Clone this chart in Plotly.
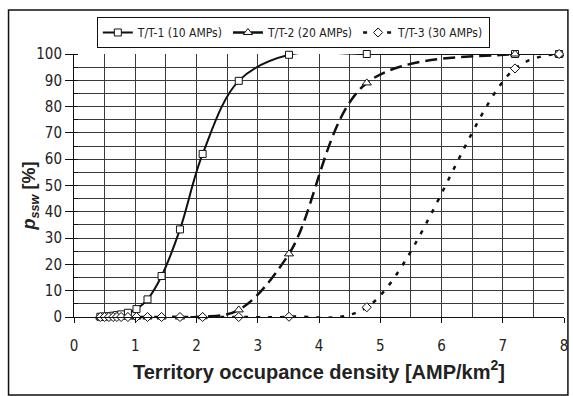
import plotly.graph_objects as go

# Data
x_vals = [0.43, 0.50, 0.57, 0.64, 0.70, 0.77, 0.88, 1.02, 1.20, 1.43, 1.73, 2.10, 2.69, 3.51, 4.78, 7.20, 7.92]
tt1 = [0.1, 0.2, 0.3, 0.5, 0.7, 1.0, 1.6, 3.0, 6.7, 15.6, 33.3, 62.0, 89.8, 99.7, 100.0, 100.0, 100.0]
tt2 = [0, 0, 0, 0, 0, 0, 0, 0, 0, 0, 0, 0.1, 2.7, 24.0, 89.0, 100.0, 100.0]
tt3 = [0, 0, 0, 0, 0, 0, 0, 0, 0, 0, 0, 0, 0, 0.1, 3.7, 94.5, 100.0]
names = ["T/T-1 (10 AMPs)", "T/T-2 (20 AMPs)", "T/T-3 (30 AMPs)"]

x_ticks = [0, 1, 2, 3, 4, 5, 6, 7, 8]
y_ticks = [0, 10, 20, 30, 40, 50, 60, 70, 80, 90, 100]

NARROW = "DejaVu Sans Condensed, Liberation Sans Narrow, Arial Narrow, sans-serif"
WIDE = "Liberation Sans, Arial, sans-serif"

fig = go.Figure()
fig.add_trace(go.Scatter(
    x=x_vals, y=tt1, name=names[0], mode="lines+markers",
    line=dict(color="#111", width=2, shape="spline", smoothing=1),
    marker=dict(symbol="square", size=7, color="white", line=dict(color="#111", width=1)),
    cliponaxis=False))
fig.add_trace(go.Scatter(
    x=x_vals, y=tt2, name=names[1], mode="lines+markers",
    line=dict(color="#111", width=2.5, dash="12px,6px", shape="spline", smoothing=1),
    marker=dict(symbol="triangle-up", size=8, color="white", line=dict(color="#111", width=1)),
    cliponaxis=False))
fig.add_trace(go.Scatter(
    x=x_vals, y=tt3, name=names[2], mode="lines+markers",
    line=dict(color="#111", width=2.5, dash="4px,8px", shape="spline", smoothing=1),
    marker=dict(symbol="diamond", size=7, color="white", line=dict(color="#111", width=1)),
    cliponaxis=False))

grid_col = "#3a3a3a"
fig.update_layout(
    width=573, height=396,
    margin=dict(l=74, r=5, t=54, b=79),
    paper_bgcolor="white", plot_bgcolor="white",
    font=dict(family=NARROW, size=15, color="#222"),
    showlegend=True,
    legend=dict(
        orientation="h", x=0.0466, y=1.1407, xanchor="left", yanchor="top",
        bordercolor="#111", borderwidth=1, bgcolor="white",
        font=dict(family=NARROW, size=12, color="#222"),
        itemwidth=30, tracegroupgap=0,
    ),
    xaxis=dict(
        range=[0, 8], tickvals=x_ticks, ticktext=[str(v) for v in x_ticks],
        showgrid=True, gridcolor=grid_col, gridwidth=1,
        minor=dict(dtick=0.5, showgrid=True, gridcolor=grid_col, gridwidth=1),
        ticks="outside", ticklen=5, tickcolor="#111", ticklabelstandoff=10,
        showline=True, linecolor="#111", linewidth=1,
        zeroline=False, tickfont=dict(family=NARROW, size=15, color="#222"),
        title=dict(text="<b>Territory occupance density [AMP/km<sup>2</sup>]</b>",
                   font=dict(family=WIDE, size=20, color="#222"), standoff=10),
    ),
    yaxis=dict(
        range=[0, 100], tickvals=y_ticks, ticktext=[str(v) for v in y_ticks],
        showgrid=True, gridcolor=grid_col, gridwidth=1,
        minor=dict(dtick=5, showgrid=True, gridcolor=grid_col, gridwidth=1,
                   ticks="inside", ticklen=4, tickcolor="#111"),
        ticks="outside", ticklen=8, tickcolor="#111",
        showline=True, linecolor="#111", linewidth=1,
        zeroline=False, tickfont=dict(family=NARROW, size=15, color="#222"),
    ),
)

fig.add_annotation(
    xref="paper", yref="paper", x=-0.089, y=0.46, textangle=-90,
    text="<b><i>p</i><sub><i>ssw</i></sub> [%]</b>", showarrow=False,
    font=dict(family=WIDE, size=18, color="#222"), xanchor="center", yanchor="middle")

# Outer chart frame
fig.add_shape(type="rect", xref="paper", yref="paper",
              x0=-0.1336, x1=1.008, y0=-0.2966, y1=1.167,
              line=dict(color="#111", width=1.5), layer="below")

fig.write_html("out.html")
